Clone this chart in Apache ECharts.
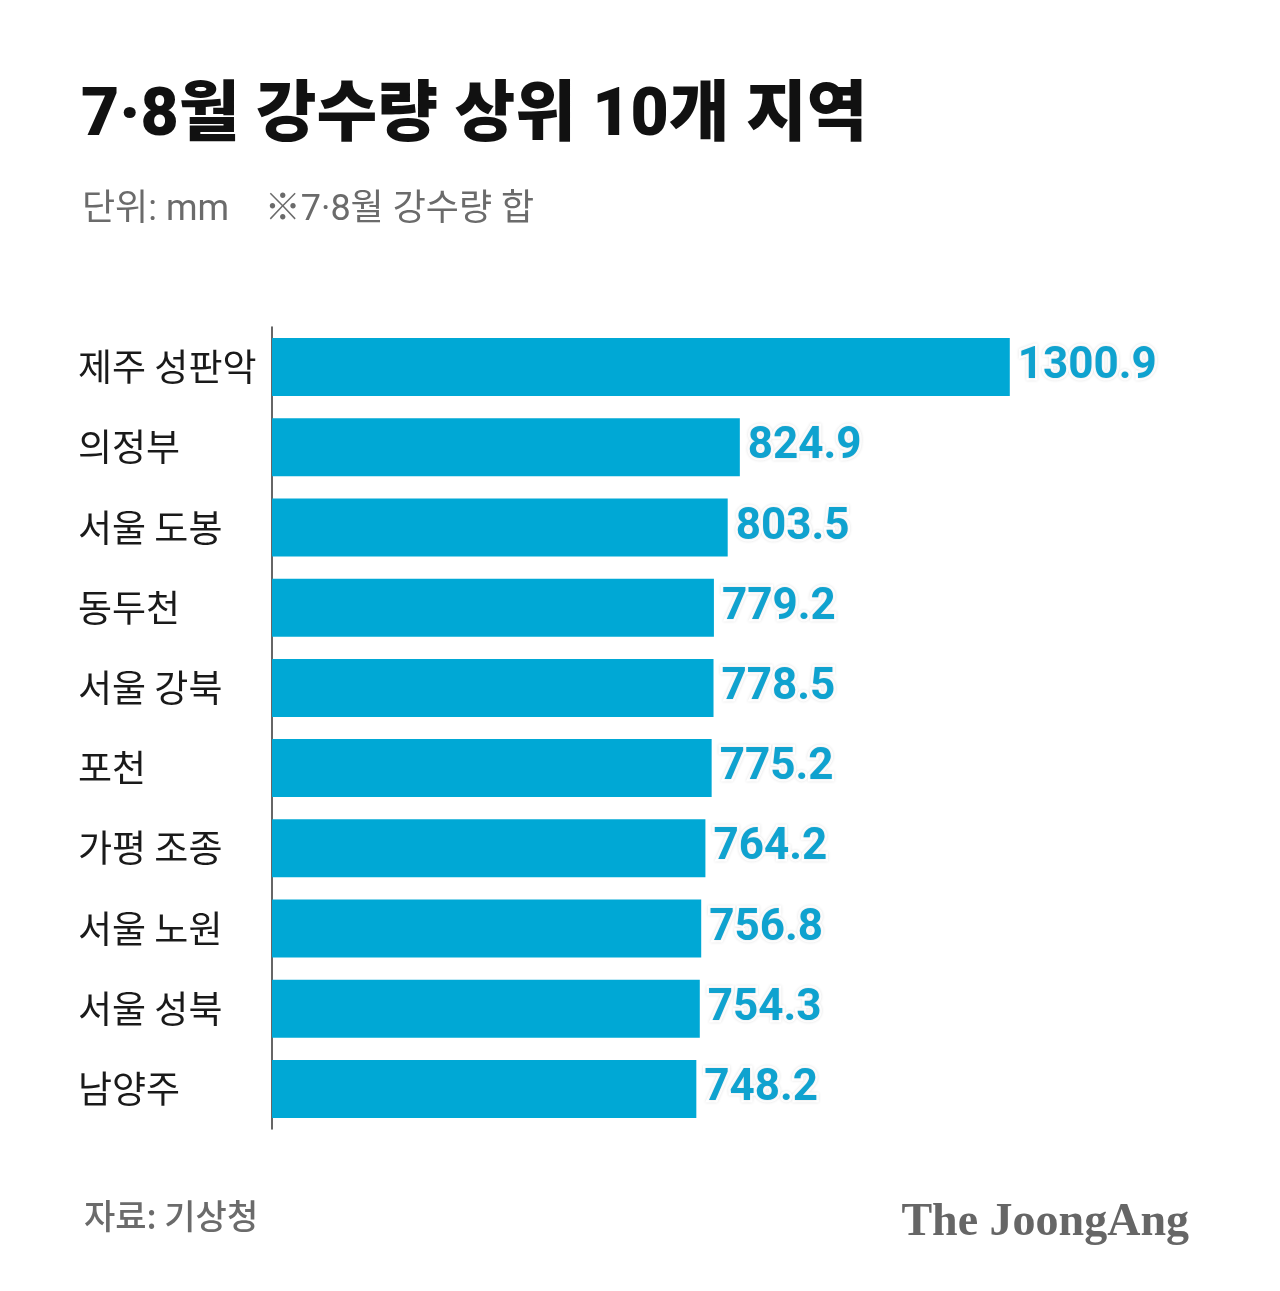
<!DOCTYPE html>
<html>
<head>
<meta charset="utf-8">
<script src="https://cdn.jsdelivr.net/npm/echarts@6/dist/echarts.min.js"></script>
<style>
  html, body { margin: 0; padding: 0; background: #fff; }
  #chart { width: 1280px; height: 1291px; }
</style>
</head>
<body>
<div id="chart"></div>
<script>
// 지역별 7·8월 강수량 합 (mm)
const regions = ['제주 성판악', '의정부', '서울 도봉', '동두천', '서울 강북', '포천', '가평 조종', '서울 노원', '서울 성북', '남양주'];
const rainfall = [1300.9, 824.9, 803.5, 779.2, 778.5, 775.2, 764.2, 756.8, 754.3, 748.2];

const KR_FONT = "'Noto Sans CJK KR', 'Noto Sans', sans-serif";
const MIX_FONT = "Roboto, 'Noto Sans CJK KR', sans-serif";
const NUM_FONT = "Roboto, 'Liberation Sans Narrow', sans-serif";

const chart = echarts.init(document.getElementById('chart'));

chart.setOption({
  backgroundColor: '#fff',
  animation: false,
  title: [
    {
      text: '7·8월 강수량 상위 10개 지역',
      left: 76,
      top: 80,
      textStyle: { fontFamily: MIX_FONT, fontSize: 66, fontWeight: 900, color: '#111' }
    },
    {
      text: '단위: mm    ※7·8월 강수량 합',
      left: 77,
      top: 188,
      textStyle: { fontFamily: MIX_FONT, fontSize: 36, fontWeight: 400, color: '#6b6b6b' }
    },
    {
      text: '자료: 기상청',
      left: 79,
      top: 1194,
      textStyle: { fontFamily: KR_FONT, fontSize: 34, fontWeight: 500, color: '#6b6b6b' }
    },
    {
      text: 'The JoongAng',
      right: 86,
      top: 1195,
      textStyle: { fontFamily: "'Liberation Serif', 'DejaVu Serif', serif", fontSize: 46, fontWeight: 'bold', color: '#666' }
    }
  ],
  grid: {
    left: 272,
    right: 214,
    top: 327,
    height: 802
  },
  xAxis: {
    type: 'value',
    min: 0,
    max: 1400,
    show: false
  },
  yAxis: {
    type: 'category',
    data: regions,
    inverse: true,
    axisTick: { show: false },
    axisLine: { show: true, lineStyle: { color: '#333', width: 1.5 } },
    axisLabel: {
      align: 'left',
      margin: 194,
      fontFamily: KR_FONT,
      fontSize: 37,
      color: '#1a1a1a'
    }
  },
  series: [
    {
      type: 'bar',
      data: rainfall,
      barWidth: 58,
      itemStyle: { color: '#00A8D5' },
      label: {
        show: true,
        position: 'right',
        distance: 8,
        formatter: (p) => p.value.toFixed(1),
        fontFamily: NUM_FONT,
        fontWeight: 'bold',
        fontSize: 44,
        color: '#0FA2CF',
        textBorderColor: '#fff',
        textBorderWidth: 5,
        textShadowColor: 'rgba(0,0,0,0.12)',
        textShadowBlur: 3
      }
    }
  ]
});
</script>
</body>
</html>
